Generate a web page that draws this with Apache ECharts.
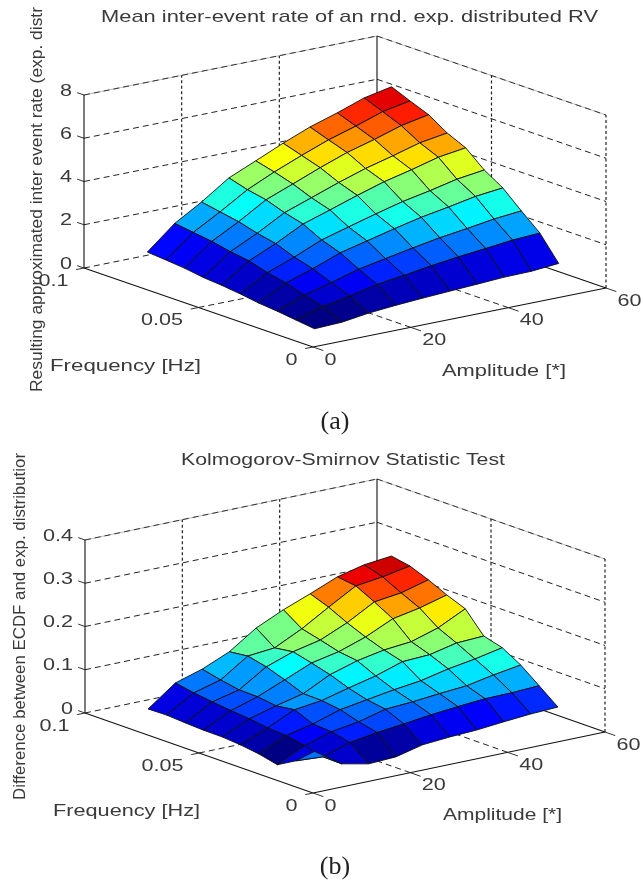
<!DOCTYPE html>
<html><head><meta charset="utf-8">
<style>html,body{margin:0;padding:0;background:#fff}#c{width:641px;height:887px}</style>
<script src="https://cdn.jsdelivr.net/npm/echarts@6/dist/echarts.min.js"></script>
</head><body><div id="c"></div>
<script>
// ---- data ----
const amplitudes = [5,10.6,16.1,21.7,27.2,32.8,38.3,43.9,49.4,55];
const frequencies = [0.083,0.0749,0.0668,0.0587,0.0506,0.0425,0.0344,0.0263,0.0182,0.01];
const rateValues = [
 [1.13,2.2,2.94,3.8,4.34,4.9,5.4,5.8,6.24,6.5],
 [1.06,2.08,2.78,3.55,4.12,4.63,5.1,5.48,5.9,6.14],
 [.98,1.96,2.62,3.38,3.86,4.36,4.81,5.16,5.55,5.8],
 [.85,1.78,2.38,3.08,3.52,3.97,4.37,4.7,5.05,5.25],
 [.78,1.65,2.2,2.85,3.25,3.67,4.05,4.35,4.68,4.86],
 [.68,1.4,1.87,2.41,2.76,3.11,3.43,3.68,3.96,4.13],
 [.55,1.22,1.63,2.11,2.41,2.72,3.0,3.22,3.46,3.6],
 [.47,.96,1.28,1.65,1.89,2.13,2.35,2.52,2.71,2.83],
 [.36,.72,.96,1.24,1.41,1.6,1.76,1.89,2.03,2.1],
 [.25,.30,.47,.58,.66,.73,.80,.87,.89,1.0]
];
const ksValues = [
 [.029,.076,.095,.122,.164,.193,.217,.243,.258,.265],
 [.030,.068,.085,.127,.133,.164,.201,.237,.245,.257],
 [.027,.062,.077,.117,.139,.153,.18,.215,.223,.24],
 [.025,.057,.076,.102,.128,.141,.162,.191,.203,.22],
 [.0245,.053,.07,.085,.116,.135,.147,.153,.172,.203],
 [.021,.047,.076,.084,.1,.115,.135,.138,.152,.155],
 [.015,.044,.058,.078,.088,.098,.106,.12,.13,.143],
 [.005,.036,.055,.065,.081,.085,.091,.096,.108,.118],
 [.029,.025,.045,.055,.062,.07,.076,.081,.082,.085],
 [.066,.024,.011,.014,.029,.034,.037,.043,.048,.051]
];
const ampTicks = [0,20,40,60];
const freqTicks = [0.1,0.05,0];
const freqTickLabels = ['0.1','0.05','0'];
const rateTicks = [0,2,4,6,8];
const rateTickLabels = ['0','2','4','6','8'];
const ksTicks = [0,0.1,0.2,0.3,0.4];
const ksTickLabels = ['0','0.1','0.2','0.3','0.4'];

// ---- layout ----
const FF = '"Liberation Sans", Arial, sans-serif';
const TICK_SCALE = 1.27;
const panels = [
 { top:0, height:444, values:rateValues, zTicks:rateTicks, zLabels:rateTickLabels, zMax:8,
   o:[313,347], ax:[293,-59], fx:[-229,-79], zh:173,
   title:{text:'Mean inter-event rate of an rnd. exp. distributed RV',x:349.5,y:17,w:497,size:17},
   yl:{text:'Resulting approximated inter event rate (exp. distr',x:37,y:392,w:385,size:17},
   fn:{text:'Frequency [Hz]',x:125.5,y:366,w:151,size:17},
   an:{text:'Amplitude [*]',x:504,y:371,w:124,size:17},
   sub:{text:'(a)',x:335,y:422}},
 { top:444, height:443, values:ksValues, zTicks:ksTicks, zLabels:ksTickLabels, zMax:0.4,
   o:[313,349], ax:[292,-61], fx:[-228,-80], zh:173,
   title:{text:'Kolmogorov-Smirnov Statistic Test',x:343,y:17,w:324,size:16},
   yl:{text:'Difference between ECDF and exp. distributior',x:20,y:356,w:347,size:17},
   fn:{text:'Frequency [Hz]',x:126.5,y:367,w:147,size:17},
   an:{text:'Amplitude [*]',x:502.5,y:371,w:119,size:17},
   sub:{text:'(b)',x:335,y:423}}
];
const jetStops = ['#000084','#0000ff','#00ffff','#ffff00','#ff0000','#800000'];
function jet(v){
  const pos=[0,.125,.375,.625,.875,1]; let k=0;
  while(k<4 && v>pos[k+1]) k++;
  return echarts.color.lerp((v-pos[k])/(pos[k+1]-pos[k]), [jetStops[k],jetStops[k+1]]);
}
const ctx=document.createElement('canvas').getContext('2d');
function fit(t,size,w){ctx.font=size+'px '+FF;return w/ctx.measureText(t).width;}

function project(p,a,f,z){
  return [p.o[0]+a/60*p.ax[0]+f/0.1*p.fx[0], p.o[1]+a/60*p.ax[1]+f/0.1*p.fx[1]-z/p.zMax*p.zh];
}

function frameSegments(p){
  const S=[], dash='dash', dot='dot', solid='solid', top='top';
  const T=p.zMax;
  const add=(A,B,kind)=>S.push({A,B,kind});
  p.zTicks.forEach(z=>{
    const k = z===T ? top : dash;
    add([0,.1,z],[60,.1,z],k);
    add([60,.1,z],[60,0,z], z===0 ? solid : k);
    add([0,.1,z],[0,.103,z],'tick');
  });
  ampTicks.slice(1,3).forEach(a=>{
    add([a,.1,0],[a,.1,T],dot);
    add([a,0,0],[a,.1,0],dash);
  });
  add([60,.05,0],[60,.05,T],dot);
  add([0,.05,0],[60,.05,0],dash);
  add([60,0,0],[60,0,T],dot);
  add([0,.1,0],[0,.1,T],solid);
  add([60,.1,0],[60,.1,T],solid);
  add([0,0,0],[0,.1,0],solid);
  add([0,0,0],[60,0,0],solid);
  ampTicks.forEach(a=>add([a,0,0],[a,-.0045,0],'tick'));
  freqTicks.forEach(f=>add([0,f,0],[-1.6,f,0],'tick'));
  return S;
}
const lineStyles={
  dash:{stroke:'#222',lineWidth:1,lineDash:[6,4]},
  dot:{stroke:'#222',lineWidth:1.2,lineDash:[3,2.5]},
  top:{stroke:'#333',lineWidth:1,lineDash:[6,4]},
  solid:{stroke:'#111',lineWidth:1.1},
  tick:{stroke:'#333',lineWidth:1}
};

function series(p,idx){
  const segs=frameSegments(p), out=[];
  // frame
  out.push({type:'custom',name:'frame'+idx,xAxisIndex:idx,yAxisIndex:idx,silent:true,z:1,clip:false,
    data:segs.map((s,i)=>{const c=project(p,...s.A);return [c[0],c[1],i];}),
    renderItem(params,api){
      const s=segs[api.value(2)];
      const a=api.coord(project(p,...s.A)), b=api.coord(project(p,...s.B));
      const shape={x1:a[0],y1:a[1],x2:b[0],y2:b[1]};
      if(s.kind==='top'){
        return {type:'group',children:[
          {type:'line',shape,style:{stroke:'#bdbdbd',lineWidth:1}},
          {type:'line',shape,style:lineStyles.top}]};
      }
      return {type:'line',shape,style:lineStyles[s.kind]};
    }});
  // surface cells, painted far to near
  const V=p.values, flat=V.flat(), zmin=Math.min(...flat), zmax=Math.max(...flat);
  const cells=[];
  for(let j=0;j<V.length-1;j++)for(let i=0;i<V[0].length-1;i++)cells.push([i,j]);
  cells.sort((u,v)=>(v[0]-v[1])-(u[0]-u[1]));
  out.push({type:'custom',name:'surface'+idx,xAxisIndex:idx,yAxisIndex:idx,silent:true,z:2,clip:false,
    data:cells.map(([i,j])=>{const c=project(p,amplitudes[i],frequencies[j],V[j][i]);return [c[0],c[1],i,j];}),
    renderItem(params,api){
      const i=api.value(2), j=api.value(3);
      const corner=(ii,jj)=>api.coord(project(p,amplitudes[ii],frequencies[jj],V[jj][ii]));
      const cval=V[j+1][i];
      return {type:'polygon',shape:{points:[corner(i,j),corner(i+1,j),corner(i+1,j+1),corner(i,j+1)]},
        style:{fill:jet((cval-zmin)/(zmax-zmin)),stroke:'#0c0c0c',lineWidth:0.9,lineJoin:'round'}};
    }});
  // texts
  const texts=[];
  const tc='#3a3a3a';
  const push=(t,x,y,opt)=>texts.push(Object.assign({t,x,y,size:17,sx:TICK_SCALE,align:'center',rot:0,fill:tc,font:FF},opt||{}));
  p.zTicks.forEach((z,k)=>{const c=project(p,0,.1,z);push(p.zLabels[k],c[0]-12,c[1]-4,{align:'right'});});
  freqTicks.forEach((f,k)=>{const c=project(p,0,f,0);push(freqTickLabels[k],c[0]-15.5,c[1]+13,{align:'right'});});
  ampTicks.forEach(a=>{const c=project(p,a,0,0);push(String(a),c[0]+11.5,c[1]+13,{align:'left'});});
  [p.title,p.fn,p.an].forEach(l=>push(l.text,l.x,l.y,{size:l.size,sx:fit(l.text,l.size,l.w)}));
  const y=p.yl; push(y.text,y.x,y.y,{size:y.size,sx:fit(y.text,y.size,y.w),align:'left',rot:Math.PI/2});
  push(p.sub.text,p.sub.x,p.sub.y,{size:26,sx:1,font:'"Liberation Serif", serif',fill:'#222'});
  out.push({type:'custom',name:'text'+idx,xAxisIndex:idx,yAxisIndex:idx,silent:true,z:3,clip:false,
    data:texts.map((t,k)=>[t.x,t.y,k]),
    renderItem(params,api){
      const t=texts[api.value(2)], c=api.coord([t.x,t.y]);
      return {type:'text',x:c[0],y:c[1],rotation:t.rot,scaleX:t.sx,scaleY:1,
        style:{text:t.t,x:0,y:0,fill:t.fill,font:t.size+'px '+t.font,align:t.align,verticalAlign:'middle'}};
    }});
  return out;
}

const chart=echarts.init(document.getElementById('c'),null,{renderer:'canvas'});
chart.setOption({
  animation:false,
  backgroundColor:'#fff',
  grid:panels.map(p=>({left:0,right:0,top:p.top,height:p.height})),
  xAxis:panels.map((p,i)=>({type:'value',gridIndex:i,min:0,max:641,show:false})),
  yAxis:panels.map((p,i)=>({type:'value',gridIndex:i,min:0,max:p.height,inverse:true,show:false})),
  series:panels.flatMap((p,i)=>series(p,i))
});
</script></body></html>
